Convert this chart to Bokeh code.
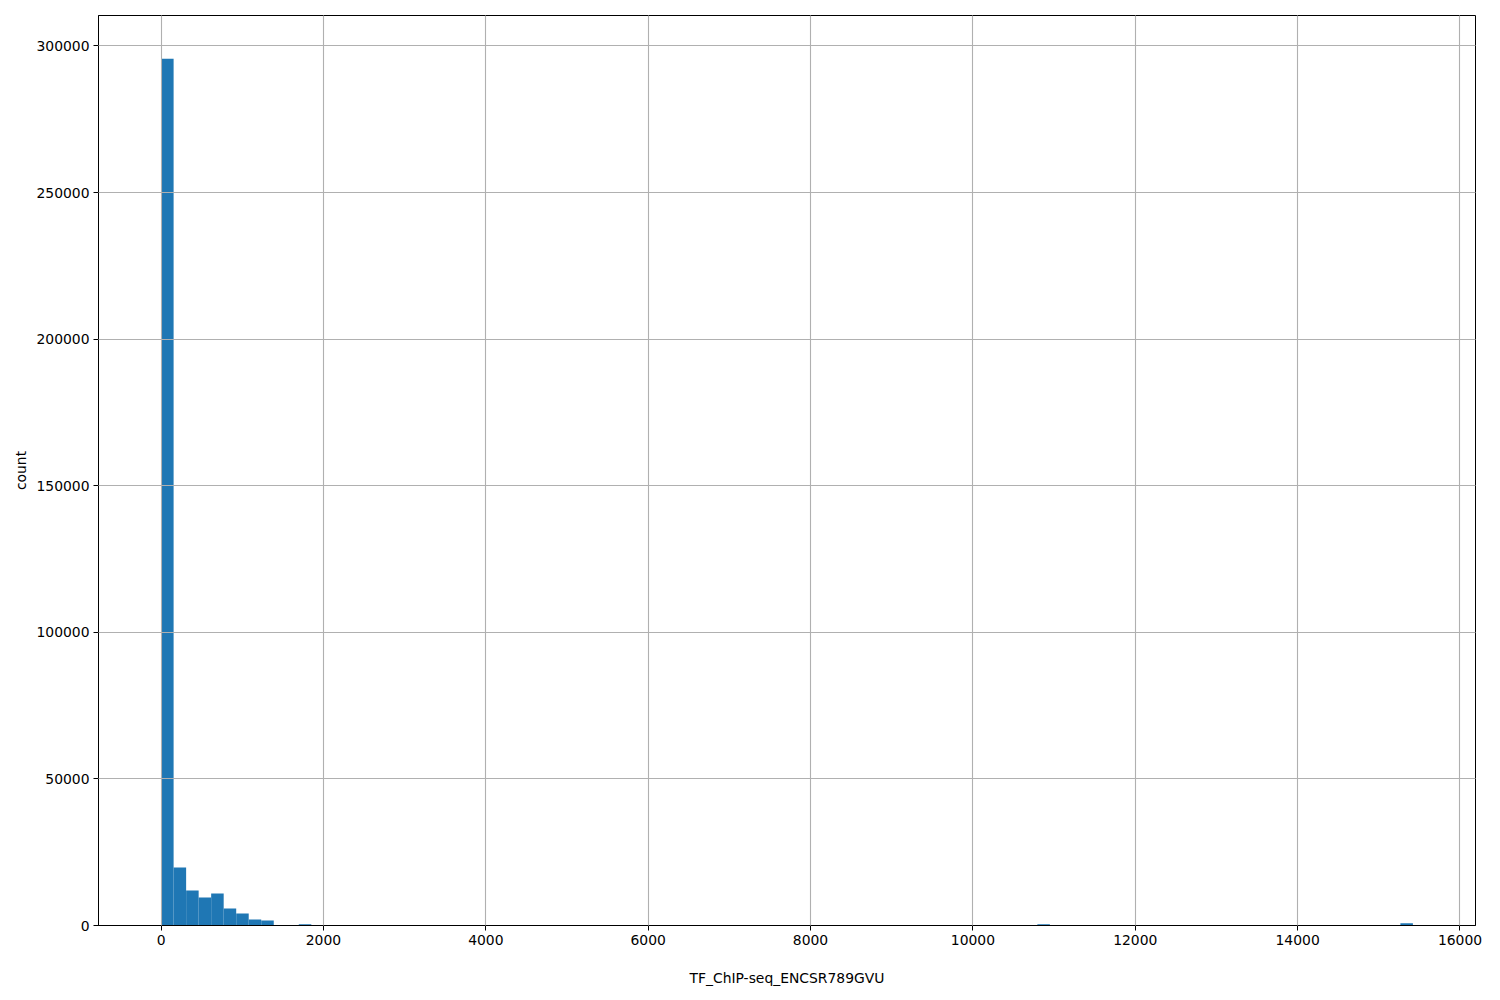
from bokeh.plotting import figure
from bokeh.models import FixedTicker, NumeralTickFormatter, Range1d
from bokeh.embed import file_html
from bokeh.resources import INLINE

# Histogram data (100 equal-width bins from data min to data max)
data_min = 0.0
data_max = 15420.0
n_bins = 100
bin_index = [0, 1, 2, 3, 4, 5, 6, 7, 8, 11, 70, 99]
bin_count = [295600, 19800, 11900, 9550, 10950, 5800, 4100, 2050, 1700, 450, 400, 800]

x_ticks = [0, 2000, 4000, 6000, 8000, 10000, 12000, 14000, 16000]
y_ticks = [0, 50000, 100000, 150000, 200000, 250000, 300000]
x_label = "TF_ChIP-seq_ENCSR789GVU"
y_label = "count"

bw = (data_max - data_min) / n_bins
lefts = [data_min + i * bw for i in bin_index]
rights = [l + bw for l in lefts]

span = data_max - data_min
ymax = max(bin_count)

p = figure(width=1484, height=988, output_backend="svg", toolbar_location=None,
           x_range=Range1d(data_min - 0.05 * span, data_max + 0.05 * span),
           y_range=Range1d(0, ymax * 1.05),
           min_border_left=98, min_border_right=9, min_border_top=15, min_border_bottom=59)

p.quad(left=lefts, right=rights, bottom=0, top=bin_count,
       fill_color="#1f77b4", line_color=None)

font = "DejaVu Sans"
for ax in (p.xaxis[0], p.yaxis[0]):
    ax.axis_line_color = "black"
    ax.major_tick_line_color = "black"
    ax.major_tick_out = 5
    ax.major_tick_in = 0
    ax.minor_tick_line_color = None
    ax.major_label_text_font = font
    ax.major_label_text_font_size = "13.9px"
    ax.major_label_text_color = "black"
    ax.axis_label_text_font = font
    ax.axis_label_text_font_size = "13.9px"
    ax.axis_label_text_font_style = "normal"
    ax.axis_label_text_color = "black"
    ax.formatter = NumeralTickFormatter(format="0")

p.xaxis.ticker = FixedTicker(ticks=x_ticks)
p.yaxis.ticker = FixedTicker(ticks=y_ticks)
p.xaxis.axis_label = x_label
p.yaxis.axis_label = y_label
p.xaxis.major_label_standoff = 4
p.yaxis.major_label_standoff = 4
p.xaxis.axis_label_standoff = 22
p.yaxis.axis_label_standoff = 4

p.grid.grid_line_color = "#b0b0b0"
p.grid.grid_line_width = 1.1
p.grid.level = "guide"
p.outline_line_color = "black"
p.outline_line_width = 1
p.background_fill_color = "white"
p.border_fill_color = "white"

open("out.html", "w").write(file_html(p, INLINE))
